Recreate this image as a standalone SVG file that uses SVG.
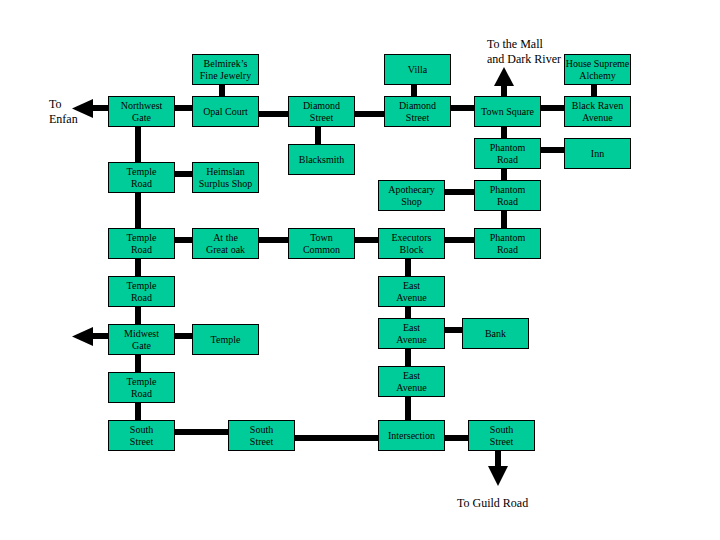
<svg xmlns="http://www.w3.org/2000/svg" width="720" height="540" viewBox="0 0 720 540">
<style>
.b{fill:#00CC99;stroke:#000;stroke-width:1}
.t{font-family:"Liberation Serif","Times New Roman",serif;font-size:10px;fill:#000;text-anchor:middle}
.l{font-family:"Liberation Serif","Times New Roman",serif;font-size:12px;fill:#000}
.c{stroke:#000;stroke-width:6;fill:none}
.a{fill:#000}
</style>
<rect width="720" height="540" fill="#fff"/>
<g id="connectors">
<line class="c" x1="93" y1="108" x2="108" y2="108"/>
<polygon class="a" points="72,108.5 93,99 93,118"/>
<line class="c" x1="174" y1="108" x2="192" y2="108"/>
<line class="c" x1="258" y1="114" x2="288" y2="114"/>
<line class="c" x1="354" y1="114" x2="384" y2="114"/>
<line class="c" x1="450" y1="108" x2="474" y2="108"/>
<line class="c" x1="540" y1="108" x2="564" y2="108"/>
<line class="c" x1="540" y1="150" x2="564" y2="150"/>
<line class="c" x1="444" y1="192" x2="474" y2="192"/>
<line class="c" x1="444" y1="240" x2="474" y2="240"/>
<line class="c" x1="174" y1="174" x2="192" y2="174"/>
<line class="c" x1="174" y1="240" x2="192" y2="240"/>
<line class="c" x1="258" y1="240" x2="288" y2="240"/>
<line class="c" x1="354" y1="240" x2="378" y2="240"/>
<line class="c" x1="93" y1="336" x2="108" y2="336"/>
<polygon class="a" points="72,336.5 93,327 93,346"/>
<line class="c" x1="174" y1="336" x2="192" y2="336"/>
<line class="c" x1="444" y1="330" x2="462" y2="330"/>
<line class="c" x1="174" y1="432" x2="228" y2="432"/>
<line class="c" x1="294" y1="438" x2="378" y2="438"/>
<line class="c" x1="444" y1="438" x2="468" y2="438"/>
<line class="c" x1="222" y1="84" x2="222" y2="96"/>
<line class="c" x1="414" y1="84" x2="414" y2="96"/>
<line class="c" x1="594" y1="84" x2="594" y2="96"/>
<line class="c" x1="504" y1="86" x2="504" y2="96"/>
<polygon class="a" points="504,67 494,86 514,86"/>
<line class="c" x1="504" y1="126" x2="504" y2="228"/>
<line class="c" x1="318" y1="126" x2="318" y2="144"/>
<line class="c" x1="138" y1="126" x2="138" y2="420"/>
<line class="c" x1="408" y1="258" x2="408" y2="420"/>
<line class="c" x1="498" y1="450" x2="498" y2="467"/>
<polygon class="a" points="488,466 508,466 498,486"/>
</g>
<g id="labels">
<text class="l" x="49" y="108">To</text>
<text class="l" x="49" y="123">Enfan</text>
<text class="l" x="487" y="48">To the Mall</text>
<text class="l" x="487" y="63">and Dark River</text>
<text class="l" x="457" y="507">To Guild Road</text>
</g>
<g id="n-belmirek"><rect class="b" x="192.5" y="54.5" width="66" height="30"/><text class="t" x="225.5" y="67">Belmirek’s</text><text class="t" x="225.5" y="79">Fine Jewelry</text></g>
<g id="n-northwest"><rect class="b" x="108.5" y="96.5" width="66" height="30"/><text class="t" x="141.5" y="109">Northwest</text><text class="t" x="141.5" y="121">Gate</text></g>
<g id="n-opal"><rect class="b" x="192.5" y="96.5" width="66" height="30"/><text class="t" x="225.5" y="115">Opal Court</text></g>
<g id="n-diamond1"><rect class="b" x="288.5" y="96.5" width="66" height="30"/><text class="t" x="321.5" y="109">Diamond</text><text class="t" x="321.5" y="121">Street</text></g>
<g id="n-blacksmith"><rect class="b" x="288.5" y="144.5" width="66" height="30"/><text class="t" x="321.5" y="163">Blacksmith</text></g>
<g id="n-villa"><rect class="b" x="384.5" y="54.5" width="66" height="30"/><text class="t" x="417.5" y="73">Villa</text></g>
<g id="n-diamond2"><rect class="b" x="384.5" y="96.5" width="66" height="30"/><text class="t" x="417.5" y="109">Diamond</text><text class="t" x="417.5" y="121">Street</text></g>
<g id="n-townsquare"><rect class="b" x="474.5" y="96.5" width="66" height="30"/><text class="t" x="507.5" y="115">Town Square</text></g>
<g id="n-house"><rect class="b" x="564.5" y="54.5" width="66" height="30"/><text class="t" x="597.5" y="67">House Supreme</text><text class="t" x="597.5" y="79">Alchemy</text></g>
<g id="n-blackraven"><rect class="b" x="564.5" y="96.5" width="66" height="30"/><text class="t" x="597.5" y="109">Black Raven</text><text class="t" x="597.5" y="121">Avenue</text></g>
<g id="n-phantom1"><rect class="b" x="474.5" y="138.5" width="66" height="30"/><text class="t" x="507.5" y="151">Phantom</text><text class="t" x="507.5" y="163">Road</text></g>
<g id="n-inn"><rect class="b" x="564.5" y="138.5" width="66" height="30"/><text class="t" x="597.5" y="157">Inn</text></g>
<g id="n-apothecary"><rect class="b" x="378.5" y="180.5" width="66" height="30"/><text class="t" x="411.5" y="193">Apothecary</text><text class="t" x="411.5" y="205">Shop</text></g>
<g id="n-phantom2"><rect class="b" x="474.5" y="180.5" width="66" height="30"/><text class="t" x="507.5" y="193">Phantom</text><text class="t" x="507.5" y="205">Road</text></g>
<g id="n-executors"><rect class="b" x="378.5" y="228.5" width="66" height="30"/><text class="t" x="411.5" y="241">Executors</text><text class="t" x="411.5" y="253">Block</text></g>
<g id="n-phantom3"><rect class="b" x="474.5" y="228.5" width="66" height="30"/><text class="t" x="507.5" y="241">Phantom</text><text class="t" x="507.5" y="253">Road</text></g>
<g id="n-temple1"><rect class="b" x="108.5" y="162.5" width="66" height="30"/><text class="t" x="141.5" y="175">Temple</text><text class="t" x="141.5" y="187">Road</text></g>
<g id="n-heimslan"><rect class="b" x="192.5" y="162.5" width="66" height="30"/><text class="t" x="225.5" y="175">Heimslan</text><text class="t" x="225.5" y="187">Surplus Shop</text></g>
<g id="n-temple2"><rect class="b" x="108.5" y="228.5" width="66" height="30"/><text class="t" x="141.5" y="241">Temple</text><text class="t" x="141.5" y="253">Road</text></g>
<g id="n-greatoak"><rect class="b" x="192.5" y="228.5" width="66" height="30"/><text class="t" x="225.5" y="241">At the</text><text class="t" x="225.5" y="253">Great oak</text></g>
<g id="n-towncommon"><rect class="b" x="288.5" y="228.5" width="66" height="30"/><text class="t" x="321.5" y="241">Town</text><text class="t" x="321.5" y="253">Common</text></g>
<g id="n-temple3"><rect class="b" x="108.5" y="276.5" width="66" height="30"/><text class="t" x="141.5" y="289">Temple</text><text class="t" x="141.5" y="301">Road</text></g>
<g id="n-midwest"><rect class="b" x="108.5" y="324.5" width="66" height="30"/><text class="t" x="141.5" y="337">Midwest</text><text class="t" x="141.5" y="349">Gate</text></g>
<g id="n-temple"><rect class="b" x="192.5" y="324.5" width="66" height="30"/><text class="t" x="225.5" y="343">Temple</text></g>
<g id="n-temple4"><rect class="b" x="108.5" y="372.5" width="66" height="30"/><text class="t" x="141.5" y="385">Temple</text><text class="t" x="141.5" y="397">Road</text></g>
<g id="n-south1"><rect class="b" x="108.5" y="420.5" width="66" height="30"/><text class="t" x="141.5" y="433">South</text><text class="t" x="141.5" y="445">Street</text></g>
<g id="n-south2"><rect class="b" x="228.5" y="420.5" width="66" height="30"/><text class="t" x="261.5" y="433">South</text><text class="t" x="261.5" y="445">Street</text></g>
<g id="n-east1"><rect class="b" x="378.5" y="276.5" width="66" height="30"/><text class="t" x="411.5" y="289">East</text><text class="t" x="411.5" y="301">Avenue</text></g>
<g id="n-east2"><rect class="b" x="378.5" y="318.5" width="66" height="30"/><text class="t" x="411.5" y="331">East</text><text class="t" x="411.5" y="343">Avenue</text></g>
<g id="n-bank"><rect class="b" x="462.5" y="318.5" width="66" height="30"/><text class="t" x="495.5" y="337">Bank</text></g>
<g id="n-east3"><rect class="b" x="378.5" y="366.5" width="66" height="30"/><text class="t" x="411.5" y="379">East</text><text class="t" x="411.5" y="391">Avenue</text></g>
<g id="n-intersection"><rect class="b" x="378.5" y="420.5" width="66" height="30"/><text class="t" x="411.5" y="439">Intersection</text></g>
<g id="n-south3"><rect class="b" x="468.5" y="420.5" width="66" height="30"/><text class="t" x="501.5" y="433">South</text><text class="t" x="501.5" y="445">Street</text></g>
</svg>
